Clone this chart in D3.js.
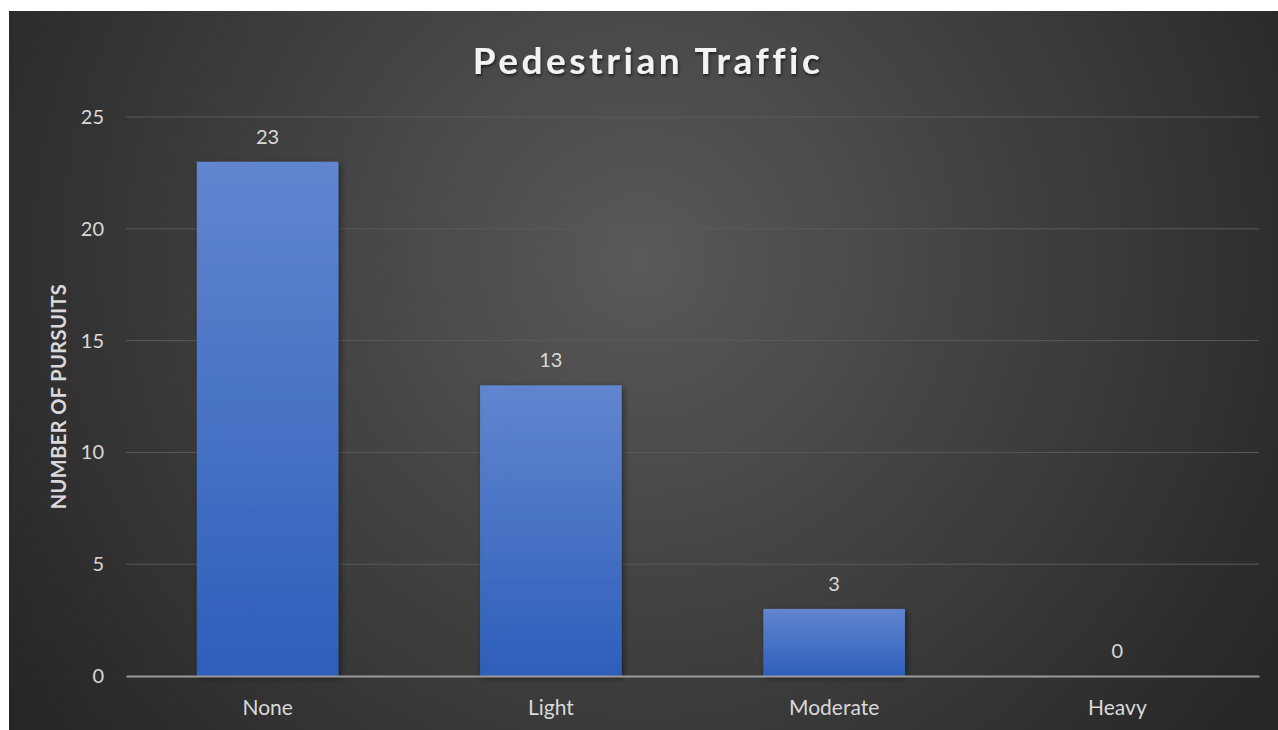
<!DOCTYPE html>
<html>
<head>
<meta charset="utf-8">
<script src="https://cdn.jsdelivr.net/npm/d3@7"></script>
<style>
  body { margin: 0; background: #fff; overflow: hidden; }
  svg { display: block; }
</style>
</head>
<body>
<script>
const categories = ["None", "Light", "Moderate", "Heavy"];
const pursuits = [23, 13, 3, 0];
const yTicks = [0, 5, 10, 15, 20, 25];

const W = 1278, H = 730;
const plot = { left: 126, right: 1259, top: 117, bottom: 676 };
const font = "Lato, 'Open Sans', sans-serif";

const svg = d3.select("body").append("svg")
  .attr("width", W)
  .attr("height", H);

const defs = svg.append("defs");

const bg = defs.append("radialGradient")
  .attr("id", "bg")
  .attr("gradientUnits", "userSpaceOnUse")
  .attr("cx", 640).attr("cy", 260).attr("r", 760);
bg.append("stop").attr("offset", "0%").attr("stop-color", "#595959");
bg.append("stop").attr("offset", "100%").attr("stop-color", "#262626");

const barGrad = defs.append("linearGradient")
  .attr("id", "bar")
  .attr("x1", 0).attr("y1", 0).attr("x2", 0).attr("y2", 1);
barGrad.append("stop").attr("offset", "0%").attr("stop-color", "#6285cf");
barGrad.append("stop").attr("offset", "100%").attr("stop-color", "#2d5fba");

const shadow = defs.append("filter").attr("id", "shadow")
  .attr("x", "-20%").attr("y", "-20%").attr("width", "140%").attr("height", "140%");
shadow.append("feDropShadow")
  .attr("dx", 2).attr("dy", 2).attr("stdDeviation", 3)
  .attr("flood-color", "#000").attr("flood-opacity", 0.45);

const tshadow = defs.append("filter").attr("id", "tshadow");
tshadow.append("feDropShadow")
  .attr("dx", 1).attr("dy", 2).attr("stdDeviation", 1.5)
  .attr("flood-color", "#000").attr("flood-opacity", 0.6);

svg.append("rect")
  .attr("x", 9).attr("y", 11)
  .attr("width", W - 9).attr("height", H - 11)
  .attr("fill", "url(#bg)");

const x = d3.scaleBand()
  .domain(categories)
  .range([plot.left, plot.right])
  .paddingInner(0.5)
  .paddingOuter(0.25);

const y = d3.scaleLinear()
  .domain([0, 25])
  .range([plot.bottom, plot.top]);

// gridlines
svg.append("g")
  .selectAll("line")
  .data(yTicks.filter(d => d > 0))
  .join("line")
  .attr("x1", plot.left).attr("x2", plot.right)
  .attr("y1", d => y(d)).attr("y2", d => y(d))
  .attr("stroke", "#5a5a5a")
  .attr("stroke-width", 1);

// y axis labels
const yAxis = svg.append("g")
  .attr("transform", `translate(${plot.left},0)`)
  .call(d3.axisLeft(y).tickValues(yTicks).tickSize(0).tickPadding(22));
yAxis.select(".domain").remove();
yAxis.selectAll("text")
  .attr("fill", "#d9d9d9")
  .style("font-family", font)
  .style("font-size", "20px");

// bars
svg.append("g")
  .selectAll("rect")
  .data(pursuits)
  .join("rect")
  .attr("x", (d, i) => x(categories[i]))
  .attr("y", d => y(d))
  .attr("width", x.bandwidth())
  .attr("height", d => y(0) - y(d))
  .attr("fill", "url(#bar)")
  .attr("filter", "url(#shadow)");

// value labels
svg.append("g")
  .selectAll("text")
  .data(pursuits)
  .join("text")
  .attr("x", (d, i) => x(categories[i]) + x.bandwidth() / 2)
  .attr("y", d => y(d) - 18)
  .attr("text-anchor", "middle")
  .attr("fill", "#d9d9d9")
  .style("font-family", font)
  .style("font-size", "20px")
  .text(d => d);

// x axis
const xAxis = svg.append("g")
  .attr("transform", `translate(0,${plot.bottom})`)
  .call(d3.axisBottom(x).tickSize(0).tickPadding(24));
xAxis.select(".domain")
  .attr("stroke", "#9a9a9a")
  .attr("stroke-width", 2);
xAxis.selectAll("text")
  .attr("fill", "#d9d9d9")
  .style("font-family", font)
  .style("font-size", "21px");

// y axis title
svg.append("text")
  .attr("transform", `translate(66,${(plot.top + plot.bottom) / 2}) rotate(-90)`)
  .attr("text-anchor", "middle")
  .attr("fill", "#d9d9d9")
  .style("font-family", font)
  .style("font-weight", "bold")
  .style("font-size", "20px")
  .style("letter-spacing", "0.4px")
  .text("NUMBER OF PURSUITS");

// title
svg.append("text")
  .attr("x", 648)
  .attr("y", 74)
  .attr("text-anchor", "middle")
  .attr("fill", "#f2f2f2")
  .attr("filter", "url(#tshadow)")
  .style("font-family", font)
  .style("font-weight", "bold")
  .style("font-size", "37px")
  .style("letter-spacing", "3.5px")
  .text("Pedestrian Traffic");
</script>
</body>
</html>
